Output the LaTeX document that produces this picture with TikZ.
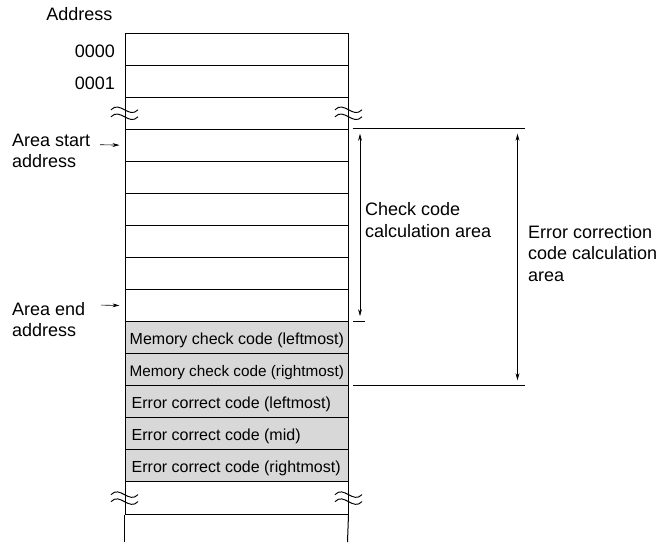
\documentclass[tikz,border=0pt]{standalone}
\usepackage{fontspec}
\setmainfont{Liberation Sans}
\usetikzlibrary{arrows.meta}
\definecolor{cellgray}{RGB}{216,216,216}
\begin{document}
\begin{tikzpicture}[x=1pt,y=-1pt,
  cell/.style={draw, line width=1pt, minimum width=223pt, minimum height=32.07pt, inner sep=0pt, anchor=north west},
  graycell/.style={cell, fill=cellgray},
  lbl/.style={font=\fontsize{18}{21.5}\selectfont, inner sep=0pt},
  celltxt/.style={font=\fontsize{16}{19}\selectfont, inner sep=0pt, anchor=base west},
  memtxt/.style={celltxt, font=\fontsize{15.3}{19}\selectfont},
  arr/.style={-{Stealth[length=7pt,width=3.8pt]}, line width=0.6pt},
  dimarr/.style={{Stealth[length=7pt,width=3.8pt]}-{Stealth[length=7pt,width=3.8pt]}, line width=0.6pt, shorten <=5pt, shorten >=5pt},
  thinline/.style={line width=0.7pt},
  brk/.pic={
    \draw[line width=0.95pt] (-13.5,-3.4) .. controls (-4.5,-13) and (4.5,6.2) .. (13.5,-3.4);
    \draw[line width=0.95pt] (-13.5,3.6) .. controls (-4.5,-6) and (4.5,13.2) .. (13.5,3.6);
  }
]
\useasboundingbox (0,0) rectangle (670,542);

% memory cells
\node[cell] (r0) at (124.5,32.5) {};
\node[cell] (r1) at (124.5,64.57) {};
\node[cell] (r2) at (124.5,96.64) {};
\node[cell] (r3) at (124.5,128.71) {};
\node[cell] (r4) at (124.5,160.78) {};
\node[cell] (r5) at (124.5,192.85) {};
\node[cell] (r6) at (124.5,224.92) {};
\node[cell] (r7) at (124.5,256.99) {};
\node[cell] (r8) at (124.5,289.06) {};
\node[graycell] (r9) at (124.5,321.13) {};
\node[graycell] (r10) at (124.5,353.2) {};
\node[graycell] (r11) at (124.5,385.27) {};
\node[graycell] (r12) at (124.5,417.34) {};
\node[graycell] (r13) at (124.5,449.41) {};
\node[cell] (r14) at (124.5,481.48) {};
\coordinate (bl) at (124.5,542);
\coordinate (br) at (347.5,542);
\draw[line width=1pt] (r14.south west) -- (bl);
\draw[line width=1pt] (r14.south east) -- (br);

% break marks
\pic at (r2.west) {brk};
\pic at (r2.east) {brk};
\pic at (r14.west) {brk};
\pic at (r14.east) {brk};

% cell texts
\node[celltxt] (t9) at (129.5,344.2) {Memory check code (leftmost)};
\node[memtxt] (t10) at (129.5,376.3) {Memory check code (rightmost)};
\node[celltxt] (t11) at (131.5,408.4) {Error correct code (leftmost)};
\node[celltxt] (t12) at (131.5,440.4) {Error correct code (mid)};
\node[celltxt] (t13) at (131.5,472.5) {Error correct code (rightmost)};

% left labels
\node[lbl, anchor=base east] (addr) at (112.5,20) {Address};
\node[lbl, anchor=base east] (a0) at (115,57) {0000};
\node[lbl, anchor=base east] (a1) at (115,89.5) {0001};
\node[lbl, anchor=base west, align=left] (as) at (12,167.5) {Area start\\address};
\node[lbl, anchor=base west, align=left] (ae) at (12,336.5) {Area end\\address};
\coordinate (asx) at (100,144.7);
\coordinate (aex) at (101,305.1);
\draw[arr, shorten >=5pt] (asx) -- (r3.west);
\draw[arr, shorten >=5pt] (aex) -- (r8.west);

% right dimension lines
\coordinate (top1) at (352.5,128.71);
\coordinate (top2) at (525,128.71);
\coordinate (tk1) at (353,321.13);
\coordinate (tk2) at (365,321.13);
\coordinate (bt1) at (353,385.27);
\coordinate (bt2) at (525,385.27);
\draw[thinline] (top1) -- (top2);
\draw[thinline] (tk1) -- (tk2);
\draw[thinline] (bt1) -- (bt2);
\coordinate (ca1) at (360,128.71);
\coordinate (ca2) at (360,321.13);
\coordinate (ea1) at (517.5,128.71);
\coordinate (ea2) at (517.5,385.27);
\draw[dimarr] (ca1) -- (ca2);
\draw[dimarr] (ea1) -- (ea2);

\node[lbl, anchor=base west, align=left] (chk) at (365,237) {Check code\\calculation area};
\node[lbl, anchor=base west, align=left] (ecc) at (528,281) {Error correction\\code calculation\\area};
\end{tikzpicture}
\end{document}
